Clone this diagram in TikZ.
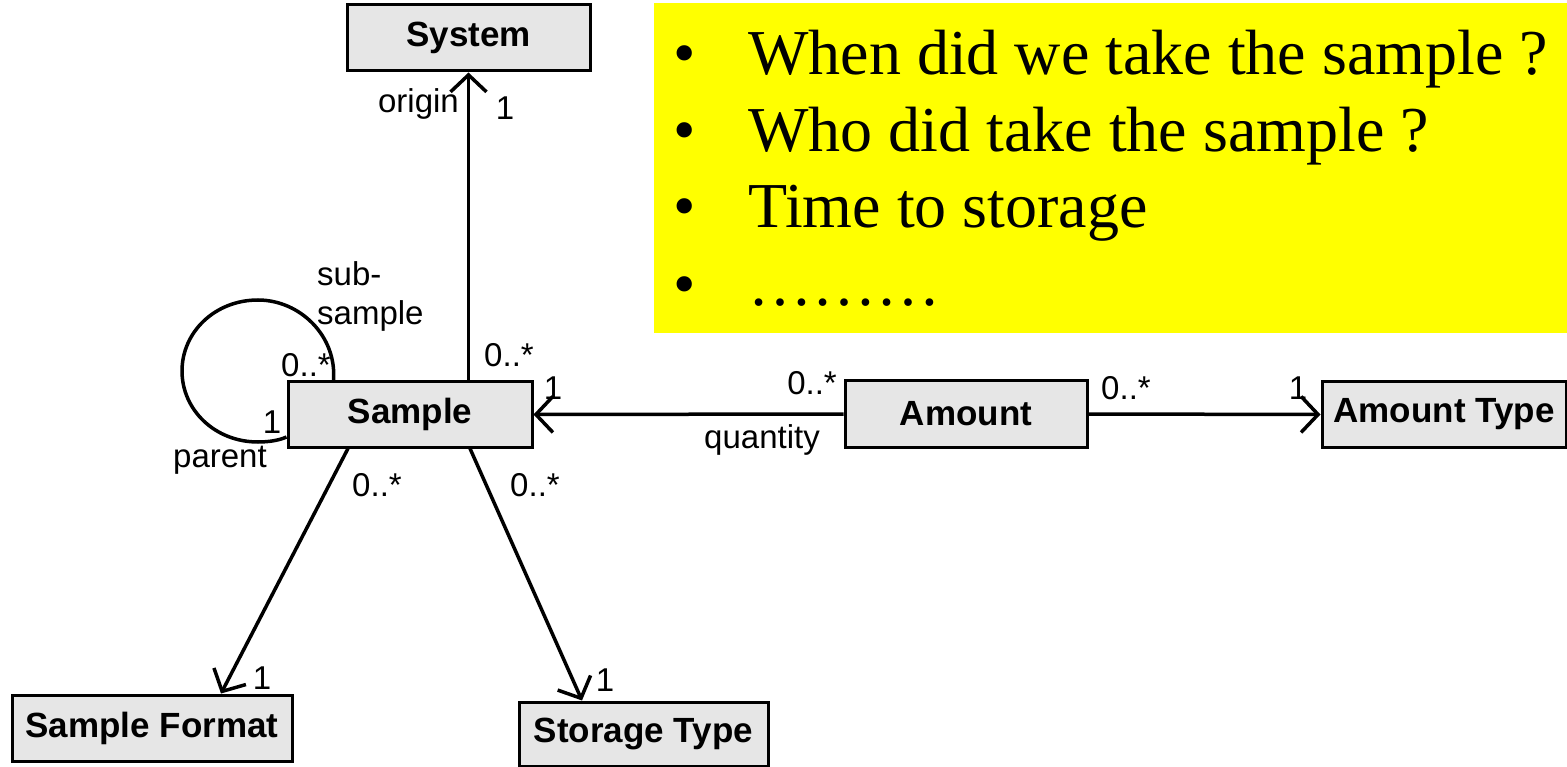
\documentclass[tikz,border=0pt]{standalone}
\usepackage{fontspec}
\setmainfont{Liberation Sans}
\newfontfamily\bulletfont{Liberation Serif}
\usetikzlibrary{arrows.meta}
\definecolor{boxgray}{RGB}{230,230,230}
\definecolor{noteyellow}{RGB}{255,255,0}
\begin{document}
\begin{tikzpicture}[x=1pt,y=-1pt,
  classbox/.style={draw=black,line width=3pt,fill=boxgray,inner sep=0pt,
    font=\fontsize{35}{42}\selectfont\bfseries},
  assoc/.style={line width=3.5pt,-{Straight Barb[length=17pt,width=36pt,line width=3.5pt]}},
  plain/.style={line width=3.5pt},
  lbl/.style={inner sep=0pt,font=\fontsize{33}{39}\selectfont},
  notetext/.style={inner sep=0pt,anchor=base west,font=\bulletfont\fontsize{64}{74}\selectfont},
  dot/.style={inner sep=0pt,anchor=base,font=\bulletfont\fontsize{64}{74}\selectfont}]
\useasboundingbox (0,0) rectangle (1567,767);

% note with open questions
\fill[noteyellow] (654,3) rectangle (1567,333);
\node[dot] (b1) at (685,75) {•};
\node[dot] (b2) at (685,152) {•};
\node[dot] (b3) at (685,228) {•};
\node[dot] (b4) at (685,306) {•};
\node[notetext] (q1) at (748,75) {When did we take the sample ?};
\node[notetext] (q2) at (748,152) {Who did take the sample ?};
\node[notetext] (q3) at (748,228) {Time to storage};
\node[notetext] (q4) at (748,306) {………};

% classes
\node[classbox,minimum width=243pt,minimum height=66pt] (system) at (468.5,38) {System};
\node[classbox,minimum width=244pt,minimum height=65pt] (sample) at (410,414.5) {Sample};
\node[classbox,minimum width=242pt,minimum height=66pt] (amount) at (966,414) {Amount};
\node[classbox,minimum width=244pt,minimum height=65pt] (atype) at (1444,414.5) {Amount Type};
\node[classbox,minimum width=280pt,minimum height=66pt] (sformat) at (152,728) {Sample Format};
\node[classbox,minimum width=249pt,minimum height=64pt] (stype) at (643.5,734) {Storage Type};

% associations
\draw[assoc] (sample.north -| system.south) -- (system.south);
\draw[assoc] (amount.west) -- (sample.east);
\draw[assoc] (amount.east) -- (atype.west);
\draw[assoc] ([xshift=-62]sample.south) -- ([xshift=69]sformat.north);
\draw[assoc] ([xshift=60]sample.south) -- ([xshift=-61.5]stype.north);

% reflexive association on Sample
\coordinate (loopA) at ([xshift=47]sample.north west);
\coordinate (loopB) at ([yshift=-22.5]sample.west);
\draw[plain] (loopA) .. controls (337,336) and (300,300) .. (258,300)
  .. controls (215,300) and (182,332) .. (182,371)
  .. controls (182,410) and (215,442) .. (258,442)
  .. controls (270,442) and (280,440) .. (loopB);

% role names and multiplicities
\node[lbl,anchor=east] (lorigin) at (459,104) {origin};
\node[lbl] (msys) at (505,108) {1};
\node[lbl] (msampleup) at (509,355) {0..*};
\node[lbl,anchor=west,align=left] (lsub) at (317,296) {sub-\\sample};
\node[lbl] (mloopmany) at (306,365) {0..*};
\node[lbl] (mloopone) at (272,422) {1};
\node[lbl] (lparent) at (220,460) {parent};
\node[lbl] (msampleq) at (553,388) {1};
\node[lbl,anchor=east] (mamountq) at (837,383) {0..*};
\node[lbl] (lquantity) at (762,440) {quantity};
\node[lbl] (mamountt) at (1126,388) {0..*};
\node[lbl] (mtype) at (1298,388) {1};
\node[lbl] (mfmtmany) at (377,485) {0..*};
\node[lbl] (mstmany) at (535,485) {0..*};
\node[lbl] (mfmt) at (262,678) {1};
\node[lbl] (mst) at (605,680) {1};
\end{tikzpicture}
\end{document}
